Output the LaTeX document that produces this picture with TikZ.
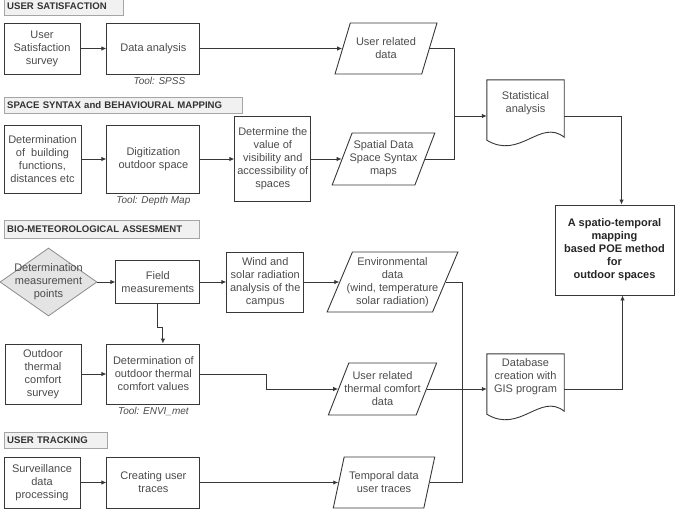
\documentclass[tikz,border=0pt]{standalone}
\usepackage{fontspec}
\setmainfont{Liberation Sans}
\usepackage{tikz}
\usetikzlibrary{shapes.geometric,arrows.meta,positioning,calc}
\definecolor{boxline}{RGB}{55,55,55}
\definecolor{boxtext}{RGB}{75,75,75}
\definecolor{headfill}{RGB}{241,241,241}
\definecolor{headline}{RGB}{165,165,165}
\definecolor{diamfill}{RGB}{228,228,228}

\begin{document}
\begin{tikzpicture}[
  x=1pt,y=-1pt,
  node distance=26pt,
  lbl/.style={font=\fontsize{11}{13}\selectfont,text=boxtext,align=center},
  box/.style={rectangle,draw=boxline,line width=0.9pt,lbl,inner sep=1pt,
    minimum width=76pt,minimum height=51pt},
  iobox/.style={trapezium,trapezium left angle=#1,trapezium right angle={180-#1},
    trapezium stretches=true,draw=boxline,line width=0.9pt,lbl,inner xsep=-12pt,inner ysep=0pt},
  iobox/.default=70,
  docbox/.style={rectangle,lbl,inner sep=1pt,minimum width=77pt,minimum height=46pt},
  docline/.style={draw=boxline,line width=0.9pt},
  secthead/.style={rectangle,draw=headline,fill=headfill,anchor=north west,
    font=\bfseries\fontsize{9.6}{11}\selectfont,text=black!80,text width=#1,align=left,
    inner xsep=3pt,inner ysep=0pt,minimum height=16pt},
  toolnote/.style={font=\itshape\fontsize{10}{12}\selectfont,text=boxtext,inner sep=1pt},
  decbox/.style={diamond,draw=black!45,fill=diamfill,line width=0.8pt,
    minimum width=97pt,minimum height=68pt,inner sep=0pt},
  arr/.style={-{Latex[length=5pt,width=4.5pt]},boxline,line width=0.9pt},
  link/.style={boxline,line width=0.9pt},
]
  \useasboundingbox (0,0) rectangle (676,514);

  \node[secthead=113pt,minimum height=18pt] (hus) at (4,-3) {USER SATISFACTION};
  \node[secthead=232pt] (hss) at (4,97) {SPACE SYNTAX and BEHAVIOURAL MAPPING};
  \node[secthead=189pt,minimum height=18pt] (hbio) at (4,220) {BIO-METEOROLOGICAL ASSESMENT};
  \node[secthead=97pt] (hut) at (4,432) {USER TRACKING};

  \node[box] (uss) at (42,48.5) {User\\Satisfaction\\survey};
  \node[box,minimum width=93pt,right=of uss] (da) {Data analysis};
  \node[toolnote,below=2pt of da,xshift=6pt] (spss) {Tool: SPSS};
  \node[iobox,minimum width=102pt,minimum height=51pt] (urd) at (386,48.5) {User related\\data};

  \node[box,minimum width=77pt,minimum height=68pt] (dbf) at (42.5,159) {Determination\\of \ building\\functions,\\distances etc};
  \node[box,minimum width=93pt,minimum height=68pt,right=25pt of dbf] (dig) {Digitization\\outdoor space};
  \node[toolnote,below=2pt of dig] (dmap) {Tool: Depth Map};
  \node[box,minimum height=85pt,right=34pt of dig] (dvv) {Determine the\\value of\\visibility and\\accessibility of\\spaces};
  \node[iobox=69,minimum width=103pt,minimum height=52pt] (spd) at (383.5,159) {Spatial Data\\Space Syntax\\maps};

  \node[docbox] (stat) at (525.5,103) {Statistical\\analysis};
  \node[box,minimum width=119pt,minimum height=90pt,font=\bfseries\fontsize{11}{13}\selectfont,text=black!85]
    (poe) at (614.5,250) {A spatio-temporal\\mapping\\based POE method\\for\\outdoor spaces};

  \node[decbox,label={[lbl]center:Determination\\measurement\\points}] (dmp) at (48.5,282) {};
  \node[box,minimum width=84pt,minimum height=43pt,right=18pt of dmp] (field) {Field\\measurements};
  \node[box,minimum width=77pt,minimum height=60pt,right=of field] (wind) {Wind and\\solar radiation\\analysis of the\\campus};
  \node[iobox=66.5,minimum width=131pt,minimum height=60pt] (env) at (392.5,282) {Environmental\\data\\(wind, temperature\\solar radiation)};

  \node[box,minimum height=60pt] (otc) at (43,374) {Outdoor\\thermal\\comfort\\survey};
  \node[box,minimum width=93pt,minimum height=60pt,right=25pt of otc] (dotc) {Determination of\\outdoor thermal\\comfort values};
  \node[toolnote,below=2pt of dotc] (envi) {Tool: ENVI\_met};
  \node[iobox=65,minimum width=109pt,minimum height=52pt] (uthc) at (382.5,389) {User related\\thermal comfort\\data};
  \node[docbox] (db) at (525.5,377) {Database\\creation with\\GIS program};

  \node[box] (sdp) at (42,482.5) {Surveillance\\data\\processing};
  \node[box,minimum width=93pt,right=of sdp] (cut) {Creating user\\traces};
  \node[iobox=73.5,minimum width=102pt,minimum height=51pt] (tmp) at (384,482.5) {Temporal data\\user traces};

  \foreach \n in {stat,db}
    \draw[docline] (\n.north west) -- (\n.north east) -- ([yshift=-11pt]\n.south east)
      .. controls +(-24pt,19pt) and +(33pt,-20pt) .. ([yshift=-14pt]\n.south west) -- cycle;

  \coordinate (j1) at (454,116);
  \coordinate (j2) at (462,389);
  \draw[arr] (uss) -- (da); \draw[arr] (da) -- (urd.left side);
  \draw[link] (urd.right side) -| (j1); \draw[link] (spd.right side) -| (j1);
  \draw[arr] (j1) -- (j1 -| stat.west);
  \draw[arr] (j1 -| stat.east) -| ([xshift=7pt]poe.north);
  \draw[arr] (dbf) -- (dig); \draw[arr] (dig) -- (dvv); \draw[arr] (dvv) -- (spd.left side);
  \draw[arr] (dmp) -- (field); \draw[arr] (field) -- (wind); \draw[arr] (wind) -- (env.left side);
  \draw[arr] (field.south) -- ++(0,-23pt) -| ([xshift=9.5pt]dotc.north);
  \draw[arr] (otc) -- (dotc);
  \draw[arr] (dotc.east) -- ++(66pt,0) |- (uthc.left side);
  \draw[arr] (uthc.right side) -- (j2 -| db.west);
  \draw[link] (env.right side) -| (j2); \draw[link] (tmp.right side) -| (j2);
  \draw[arr] (j2 -| db.east) -| ([xshift=8pt]poe.south);
  \draw[arr] (sdp) -- (cut); \draw[arr] (cut) -- (tmp.left side);
\end{tikzpicture}
\end{document}
